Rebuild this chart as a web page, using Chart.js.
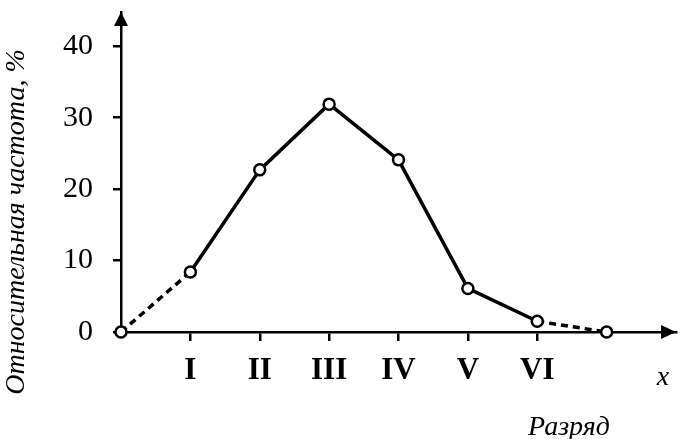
<!DOCTYPE html>
<html>
<head>
<meta charset="utf-8">
<script src="https://cdn.jsdelivr.net/npm/chart.js@4/dist/chart.umd.min.js"></script>
<style>
  html, body { margin: 0; padding: 0; background: #fff; }
  #wrap { width: 684px; height: 439px; position: relative; }
</style>
</head>
<body>
<div id="wrap"><canvas id="chart"></canvas></div>
<script>
// categories (x positions 0..7), roman labels for the inner ones
const xPos = [0, 1, 2, 3, 4, 5, 6, 7];
const xLabels = ['', 'I', 'II', 'III', 'IV', 'V', 'VI', ''];
const freq = [0, 8.4, 22.7, 31.9, 24.1, 6.1, 1.5, 0];
const yTicks = [0, 10, 20, 30, 40];

const SERIF = "'Liberation Serif', 'Times New Roman', serif";

// keep the plot box fixed, no extra room for label overhang
function noPad(s) {
  s.paddingTop = 0;
  s.paddingBottom = 0;
  s.paddingLeft = 0;
  s.paddingRight = 0;
}

// arrows at axis ends and the axis captions
const axisDecor = {
  id: 'axisDecor',
  afterDraw(chart) {
    const { ctx, chartArea: a } = chart;
    const x0 = a.left, y0 = a.bottom;
    ctx.save();
    ctx.fillStyle = '#000';
    // y arrow
    ctx.beginPath();
    ctx.moveTo(x0, a.top);
    ctx.lineTo(x0 - 7, a.top + 14);
    ctx.lineTo(x0 + 7, a.top + 14);
    ctx.closePath();
    ctx.fill();
    // x arrow
    ctx.beginPath();
    ctx.moveTo(a.right, y0);
    ctx.lineTo(a.right - 15, y0 - 7);
    ctx.lineTo(a.right - 15, y0 + 7);
    ctx.closePath();
    ctx.fill();

    ctx.textAlign = 'center';
    ctx.textBaseline = 'alphabetic';
    ctx.font = 'italic 28px ' + SERIF;
    ctx.fillText('x', 663, 385);
    ctx.font = 'italic 28px ' + SERIF;
    ctx.fillText('Разряд', 569, 435);

    ctx.translate(17, 222);
    ctx.rotate(-Math.PI / 2);
    ctx.textBaseline = 'middle';
    ctx.font = 'italic 28px ' + SERIF;
    ctx.fillText('Относительная частота, %', 0, 0);
    ctx.restore();
  }
};

new Chart(document.getElementById('chart'), {
  type: 'line',
  data: {
    datasets: [{
      data: xPos.map((x, i) => ({ x: x, y: freq[i] })),
      borderColor: '#000',
      borderWidth: 3.5,
      tension: 0,
      pointRadius: 5.5,
      pointBorderWidth: 2.5,
      pointBorderColor: '#000',
      pointBackgroundColor: '#fff',
      segment: {
        borderDash: c => (c.p0DataIndex === 0 || c.p1DataIndex === xPos.length - 1) ? [7, 5] : undefined
      },
      clip: false
    }]
  },
  options: {
    responsive: true,
    maintainAspectRatio: false,
    animation: false,
    layout: { padding: { top: 12, right: 2, left: 0, bottom: 0 } },
    plugins: { legend: { display: false }, tooltip: { enabled: false } },
    scales: {
      x: {
        type: 'linear',
        min: 0,
        max: 8,
        afterBuildTicks: s => { s.ticks = xPos.slice(1, 7).map(v => ({ value: v })); },
        afterFit: s => { s.height = 107; noPad(s); },
        border: { display: true, color: '#000', width: 2.5 },
        grid: { drawOnChartArea: false, drawTicks: true, tickLength: 9, color: '#000', lineWidth: 2.5 },
        ticks: {
          color: '#000',
          padding: 11,
          font: { family: SERIF, size: 31, weight: 'bold' },
          callback: v => xLabels[v] || ''
        }
      },
      y: {
        min: 0,
        max: 44.8,
        afterBuildTicks: s => { s.ticks = yTicks.map(v => ({ value: v })); },
        afterFit: s => { s.width = 121; noPad(s); },
        border: { display: true, color: '#000', width: 2.5 },
        grid: { drawOnChartArea: false, drawTicks: true, tickLength: 8, color: '#000', lineWidth: 2.5 },
        ticks: {
          color: '#000',
          padding: 20,
          font: { family: SERIF, size: 30 }
        }
      }
    }
  },
  plugins: [axisDecor]
});
</script>
</body>
</html>
